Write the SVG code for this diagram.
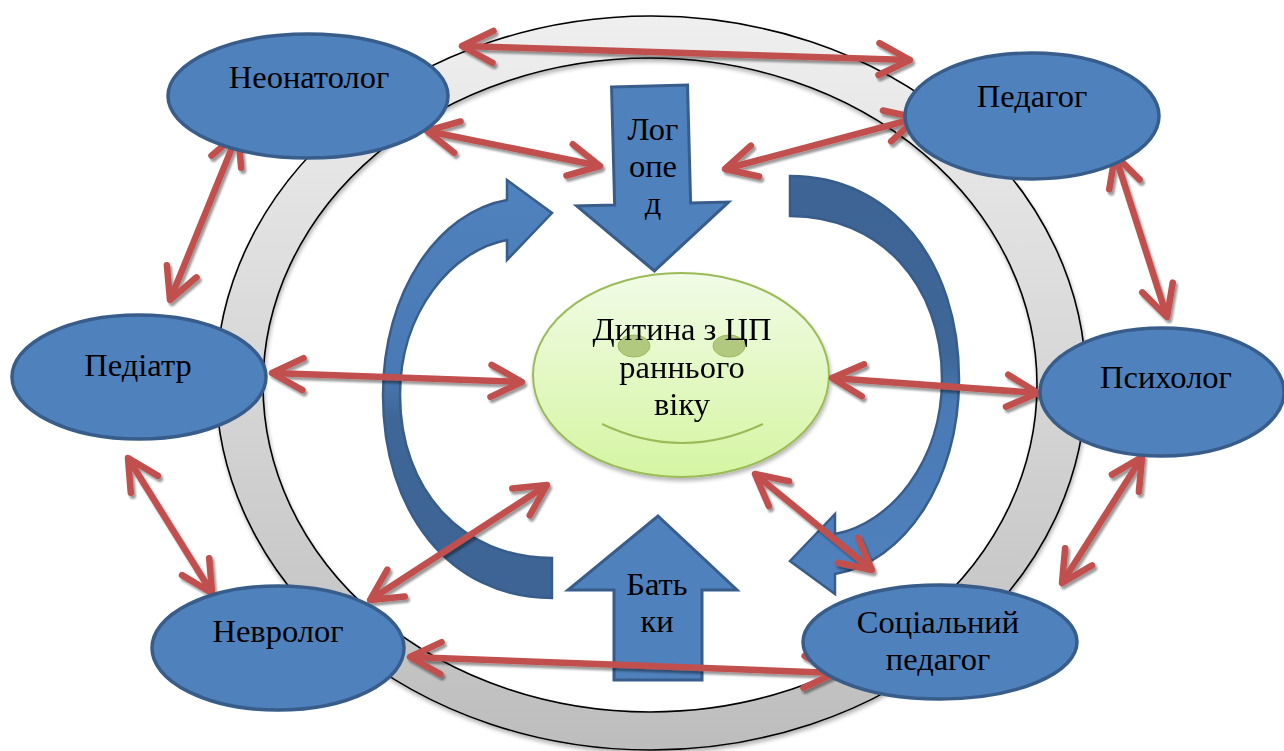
<svg xmlns="http://www.w3.org/2000/svg" width="1284" height="751" viewBox="0 0 1284 751">
<style>
.node ellipse{fill:#4f81bd;stroke:#385d8a;stroke-width:3.5}
text{font-family:"Liberation Serif","Times New Roman",serif;font-size:32.5px;fill:#000;text-anchor:middle}
.blk{fill:#4f81bd;stroke:#385d8a;stroke-width:3;stroke-linejoin:miter}
.con path{fill:none;stroke:#c0504d;stroke-width:6.5;marker-start:url(#ah);marker-end:url(#ah)}
</style>
<defs>
<linearGradient id="ringG" x1="0" y1="0" x2="0" y2="1">
<stop offset="0" stop-color="#efefef"/><stop offset="1" stop-color="#bdbdbd"/>
</linearGradient>
<linearGradient id="faceG" x1="0" y1="0" x2="0" y2="1">
<stop offset="0" stop-color="#f1fbe6"/><stop offset="1" stop-color="#d5f5a2"/>
</linearGradient>
<linearGradient id="curvG" gradientUnits="userSpaceOnUse" x1="0" y1="200" x2="0" y2="600">
<stop offset="0" stop-color="#4f81bd"/><stop offset="0.42" stop-color="#4a7ab5"/><stop offset="0.55" stop-color="#3e6696"/><stop offset="1" stop-color="#3d6494"/>
</linearGradient>
<marker id="ah" markerUnits="userSpaceOnUse" markerWidth="60" markerHeight="60" viewBox="-40 -30 60 60" refX="0" refY="0" orient="auto-start-reverse" overflow="visible">
<path d="M-31,-16 L0,0 L-31,16" fill="none" stroke="#c0504d" stroke-width="6.5" stroke-linecap="round" stroke-linejoin="round"/>
</marker>
<filter id="sh" filterUnits="userSpaceOnUse" x="0" y="0" width="1284" height="751">
<feGaussianBlur in="SourceAlpha" stdDeviation="1"/>
<feOffset dx="2" dy="3"/>
<feComponentTransfer><feFuncA type="linear" slope="0.4"/></feComponentTransfer>
<feMerge><feMergeNode/><feMergeNode in="SourceGraphic"/></feMerge>
</filter>
<filter id="sh2" filterUnits="userSpaceOnUse" x="0" y="0" width="1284" height="751">
<feGaussianBlur in="SourceAlpha" stdDeviation="2"/>
<feOffset dx="1" dy="3"/>
<feComponentTransfer><feFuncA type="linear" slope="0.3"/></feComponentTransfer>
<feMerge><feMergeNode/><feMergeNode in="SourceGraphic"/></feMerge>
</filter>
</defs>
<rect width="1284" height="751" fill="#fff"/>

<g id="ring" filter="url(#sh2)">
<path fill="url(#ringG)" fill-rule="evenodd" stroke="#000" stroke-width="1.6" d="M216,383 A435,367 0 1 0 1086,383 A435,367 0 1 0 216,383 Z M263,385 A387,327 0 1 0 1037,385 A387,327 0 1 0 263,385 Z"/>
</g>

<g id="cycle-arrows">
<path id="curvL" fill="url(#curvG)" stroke="#385d8a" stroke-width="2.5" stroke-linejoin="miter" d="M552,598 C450,598 383,512 383,395 C383,292 438,212 507,200 L507,180 L552,213 L507,260 L507,240 C452,250 400,312 400,395 C400,490 462,558 552,558 Z"/>
<use href="#curvL" transform="rotate(180 671 387)"/>
</g>

<g id="logoped">
<path class="blk" transform="rotate(-1.5 652 180)" d="M614,86 L690,86 L690,204 L728,204 L652,271 L576,204 L614,204 Z"/>
<text x="653" y="140">Лог</text>
<text x="653" y="177">опе</text>
<text x="653" y="214">д</text>
</g>

<g id="batky">
<path class="blk" d="M658,516 L737,590 L702,590 L702,680 L614,680 L614,590 L568,590 Z"/>
<text x="657" y="595">Бать</text>
<text x="657" y="632">ки</text>
</g>

<g id="child" filter="url(#sh2)">
<ellipse cx="681" cy="375" rx="148" ry="102" fill="url(#faceG)" stroke="#9bbb59" stroke-width="2"/>
<ellipse cx="634" cy="346" rx="16" ry="11" fill="#b1c97f" stroke="#9bbb59" stroke-width="1"/>
<ellipse cx="729" cy="346" rx="16" ry="11" fill="#b1c97f" stroke="#9bbb59" stroke-width="1"/>
<path d="M602,424 Q682,462 763,424" fill="none" stroke="#9bbb59" stroke-width="2"/>
<text x="682" y="340">Дитина з ЦП</text>
<text x="682" y="378">раннього</text>
<text x="682" y="415">віку</text>
</g>

<g id="connectors" class="con" filter="url(#sh)">
<path d="M462,46 L910,60"/>
<path d="M427,131 L600,166"/>
<path d="M725,169 L917,118"/>
<path d="M238,133 L170,300"/>
<path d="M272,373 L522,382"/>
<path d="M128,458 L212,593"/>
<path d="M370,600 L547,485"/>
<path d="M410,657 L835,673"/>
<path d="M832,378 L1038,393"/>
<path d="M1115,155 L1167,317"/>
<path d="M1142,457 L1062,583"/>
<path d="M755,474 L872,570"/>
</g>

<g id="neonatolog" class="node"><ellipse cx="308" cy="96" rx="140" ry="62"/><text x="309" y="88">Неонатолог</text></g>
<g id="pedagog" class="node"><ellipse cx="1032" cy="116" rx="127" ry="63"/><text x="1032" y="107">Педагог</text></g>
<g id="psykholog" class="node"><ellipse cx="1162" cy="392" rx="122" ry="64"/><text x="1166" y="388">Психолог</text></g>
<g id="pediatr" class="node"><ellipse cx="139" cy="377" rx="127" ry="62"/><text x="138" y="376">Педіатр</text></g>
<g id="nevrolog" class="node"><ellipse cx="278" cy="648" rx="126" ry="62"/><text x="278" y="642">Невролог</text></g>
<g id="social" class="node"><ellipse cx="940" cy="642" rx="137" ry="57"/><text x="938" y="633">Соціальний</text><text x="938" y="670">педагог</text></g>
</svg>
